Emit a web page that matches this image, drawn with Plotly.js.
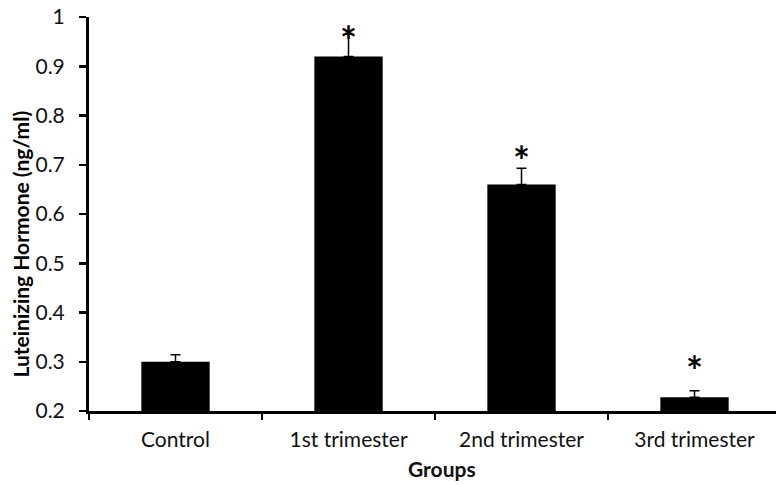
<!DOCTYPE html>
<html>
<head>
<meta charset="utf-8">
<script src="https://cdn.plot.ly/plotly-3.0.1.min.js"></script>
<style>html,body{margin:0;padding:0;background:#fff;overflow:hidden;}#chart{width:776px;height:485px;}</style>
</head>
<body>
<div id="chart"></div>
<script>
var categories = ['Control', '1st trimester', '2nd trimester', '3rd trimester'];
var lhValues = [0.30, 0.92, 0.66, 0.228];
var lhErrors = [0.014, 0.045, 0.033, 0.013];
var sigMarks = ['', '*', '*', '*'];
var sigY = [null, 0.942, 0.697, 0.271];
var yTickVals = [0.2, 0.3, 0.4, 0.5, 0.6, 0.7, 0.8, 0.9, 1];
var yTickText = ['0.2', '0.3', '0.4', '0.5', '0.6', '0.7', '0.8', '0.9', '1'];
var xTitle = 'Groups';
var yTitle = 'Luteinizing Hormone (ng/ml)';

var bars = {
  type: 'bar',
  x: categories,
  y: lhValues,
  base: 0,
  width: 0.395,
  marker: {color: '#000000', line: {color: '#000000', width: 0}},
  error_y: {type: 'data', array: lhErrors, symmetric: false, arrayminus: [0,0,0,0], color: '#000000', thickness: 1.5, width: 5},
  hoverinfo: 'none',
  showlegend: false
};
var stars = {
  type: 'scatter',
  mode: 'text',
  x: categories,
  y: sigY,
  text: sigMarks,
  textposition: 'middle center',
  textfont: {family: 'Lato, "DejaVu Sans", sans-serif', size: 40, color: '#000000', weight: 'bold'},
  hoverinfo: 'none',
  showlegend: false,
  cliponaxis: false
};

var layout = {
  width: 776, height: 485,
  margin: {l: 89, r: 0, t: 17, b: 74},
  paper_bgcolor: '#ffffff', plot_bgcolor: '#ffffff',
  font: {family: 'Lato, "Open Sans", sans-serif', color: '#111'},
  xaxis: {
    type: 'category',
    range: [-0.5, 3.471],
    tickson: 'boundaries',
    ticks: 'outside', ticklen: 6, tickwidth: 2.5, tickcolor: '#000',
    showline: true, linecolor: '#000', linewidth: 3,
    showgrid: false, zeroline: false,
    tickfont: {size: 21, family: 'Lato, sans-serif', color: '#111'},
    ticklabelstandoff: 8
  },
  yaxis: {
    range: [0.2, 1],
    tickvals: yTickVals, ticktext: yTickText,
    ticks: 'outside', ticklen: 7, tickwidth: 2.5, tickcolor: '#000',
    showline: true, linecolor: '#000', linewidth: 3,
    showgrid: false, zeroline: false,
    tickfont: {size: 21, family: 'Lato, sans-serif', color: '#111'},
    ticklabelstandoff: 10
  },
  annotations: [
    {text: '<b>' + yTitle + '</b>', xref: 'paper', yref: 'paper', x: -0.1004, y: 0.4226,
     xanchor: 'center', yanchor: 'middle', textangle: -90, showarrow: false,
     font: {size: 21, family: 'Lato, sans-serif', color: '#000'}},
    {text: '<b>' + xTitle + '</b>', xref: 'paper', yref: 'paper', x: 0.5138, y: -0.1447,
     xanchor: 'center', yanchor: 'middle', showarrow: false,
     font: {size: 21, family: 'Lato, sans-serif', color: '#111'}}
  ],
  bargap: 0.6
};

Plotly.newPlot('chart', [bars, stars], layout, {displayModeBar: false, staticPlot: true});
</script>
</body>
</html>
